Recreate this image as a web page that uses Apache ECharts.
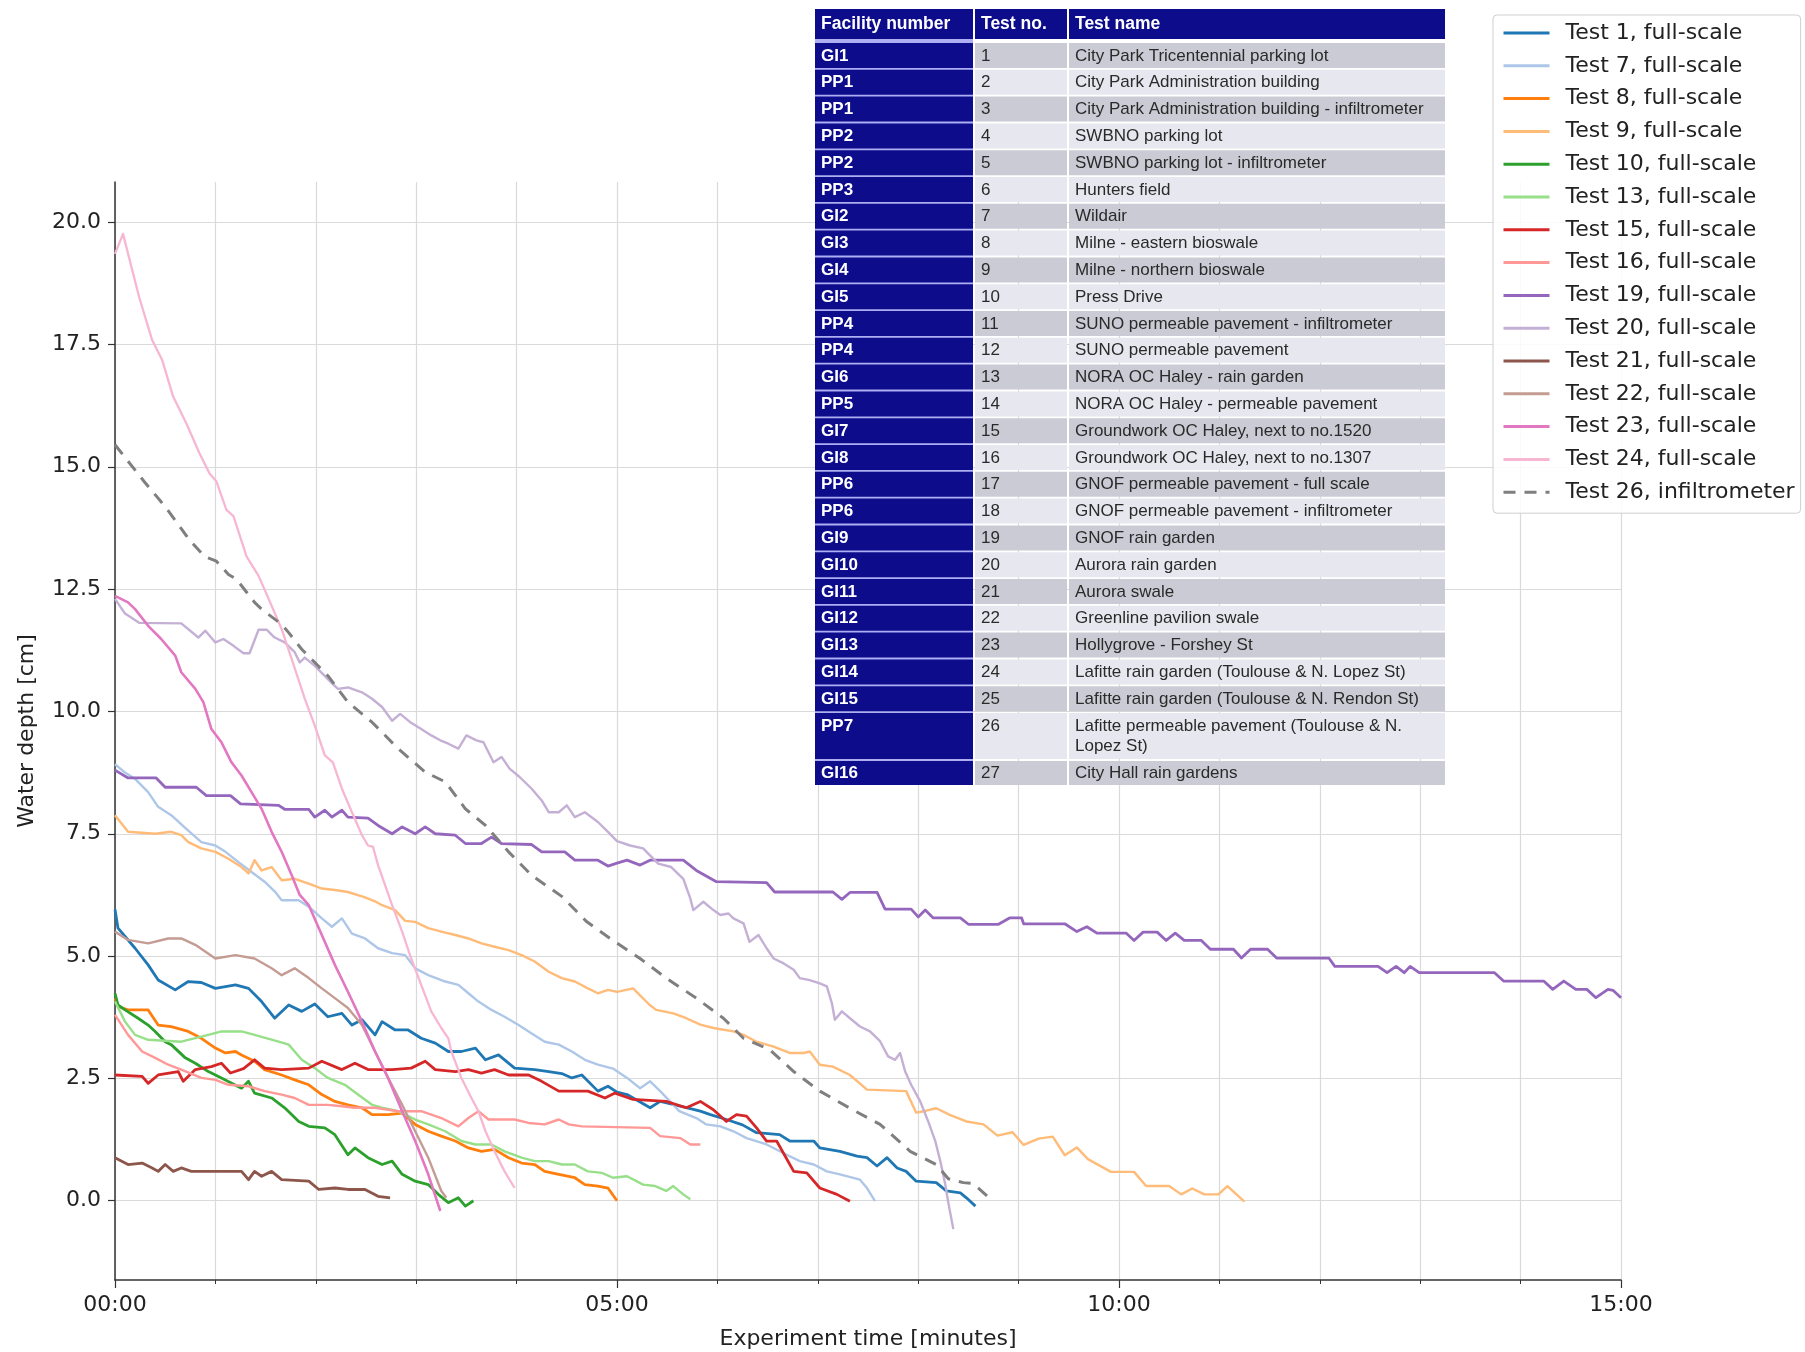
<!DOCTYPE html>
<html>
<head>
<meta charset="utf-8">
<script src="https://cdn.jsdelivr.net/npm/echarts@6.0.0/dist/echarts.min.js"></script>
<style>
html,body{margin:0;padding:0;background:#fff;}
#main{width:1805px;height:1352px;}
</style>
</head>
<body>
<div id="main"></div>
<script>
// ---------------- DATA ----------------
const seriesNames = ['Test 1, full-scale','Test 7, full-scale','Test 8, full-scale','Test 9, full-scale','Test 10, full-scale','Test 13, full-scale','Test 15, full-scale','Test 16, full-scale','Test 19, full-scale','Test 20, full-scale','Test 21, full-scale','Test 22, full-scale','Test 23, full-scale','Test 24, full-scale','Test 26, infiltrometer'];

// [time in minutes, water depth in cm]
const test1 = [[0,5.95],[0.03,5.57],[0.2,5.16],[0.33,4.82],[0.43,4.51],[0.6,4.31],[0.73,4.48],[0.86,4.46],[1.0,4.34],[1.2,4.41],[1.33,4.34],[1.46,4.07],[1.59,3.73],[1.73,4.0],[1.86,3.87],[1.99,4.02],[2.12,3.76],[2.26,3.83],[2.36,3.59],[2.46,3.7],[2.59,3.39],[2.66,3.66],[2.79,3.49],[2.92,3.49],[3.05,3.32],[3.19,3.22],[3.32,3.05],[3.45,3.05],[3.59,3.12],[3.69,2.88],[3.82,2.98],[3.98,2.71],[4.18,2.68],[4.32,2.64],[4.45,2.6],[4.55,2.51],[4.65,2.57],[4.81,2.24],[4.91,2.34],[5.0,2.22],[5.1,2.17],[5.33,1.9],[5.43,2.03],[5.6,1.95],[5.83,1.83],[5.93,1.76],[6.09,1.66],[6.25,1.55],[6.39,1.39],[6.62,1.35],[6.72,1.22],[6.96,1.22],[7.02,1.08],[7.22,1.01],[7.39,0.91],[7.49,0.88],[7.59,0.71],[7.69,0.88],[7.79,0.67],[7.88,0.6],[7.98,0.4],[8.18,0.37],[8.28,0.2],[8.42,0.16],[8.48,0.06],[8.57,-0.11]];
const test7 = [[0,8.92],[0.1,8.75],[0.2,8.62],[0.33,8.35],[0.43,8.05],[0.56,7.88],[0.71,7.6],[0.86,7.33],[1.0,7.26],[1.1,7.13],[1.23,6.92],[1.36,6.72],[1.49,6.52],[1.6,6.3],[1.66,6.14],[1.83,6.14],[1.93,6.01],[2.06,5.77],[2.16,5.6],[2.26,5.77],[2.36,5.46],[2.49,5.36],[2.62,5.16],[2.76,5.06],[2.89,5.02],[2.99,4.75],[3.12,4.61],[3.29,4.48],[3.42,4.41],[3.52,4.24],[3.62,4.07],[3.75,3.9],[3.88,3.76],[4.02,3.59],[4.15,3.42],[4.28,3.25],[4.42,3.19],[4.55,3.05],[4.68,2.88],[4.81,2.78],[4.96,2.7],[5.1,2.51],[5.23,2.3],[5.33,2.44],[5.43,2.24],[5.62,1.83],[5.79,1.69],[5.89,1.56],[6.03,1.52],[6.16,1.42],[6.29,1.28],[6.49,1.15],[6.69,0.94],[6.82,0.81],[6.96,0.74],[7.09,0.6],[7.22,0.54],[7.42,0.43],[7.49,0.26],[7.57,-0.01]];
const test8 = [[0,4.14],[0.03,3.97],[0.13,3.9],[0.33,3.9],[0.43,3.59],[0.56,3.56],[0.73,3.46],[0.86,3.32],[1.0,3.12],[1.1,3.02],[1.2,3.05],[1.26,2.98],[1.39,2.85],[1.49,2.68],[1.66,2.57],[1.79,2.47],[1.93,2.37],[2.06,2.17],[2.19,2.03],[2.32,1.96],[2.46,1.9],[2.56,1.76],[2.72,1.76],[2.86,1.79],[2.99,1.56],[3.12,1.42],[3.25,1.32],[3.39,1.22],[3.52,1.08],[3.65,1.01],[3.78,1.05],[3.92,0.88],[4.05,0.77],[4.18,0.74],[4.28,0.6],[4.42,0.54],[4.58,0.47],[4.68,0.33],[4.81,0.3],[4.91,0.26],[5.0,0.0]];
const test9 = [[0,7.88],[0.13,7.54],[0.4,7.5],[0.56,7.54],[0.66,7.47],[0.73,7.33],[0.86,7.2],[1.0,7.13],[1.13,6.99],[1.26,6.82],[1.33,6.69],[1.39,6.96],[1.46,6.75],[1.56,6.82],[1.66,6.55],[1.79,6.58],[1.93,6.48],[2.06,6.38],[2.19,6.35],[2.32,6.31],[2.49,6.2],[2.59,6.12],[2.66,6.04],[2.79,5.94],[2.89,5.72],[2.99,5.7],[3.12,5.57],[3.25,5.5],[3.39,5.43],[3.52,5.36],[3.65,5.26],[3.78,5.19],[3.92,5.12],[4.05,5.02],[4.18,4.89],[4.32,4.68],[4.45,4.55],[4.58,4.48],[4.71,4.34],[4.81,4.24],[4.91,4.31],[5.0,4.27],[5.16,4.34],[5.32,4.01],[5.39,3.9],[5.56,3.83],[5.69,3.73],[5.83,3.6],[5.96,3.53],[6.16,3.46],[6.26,3.39],[6.39,3.25],[6.56,3.15],[6.72,3.02],[6.86,3.02],[6.92,3.05],[7.02,2.78],[7.15,2.74],[7.32,2.57],[7.49,2.27],[7.88,2.24],[7.98,1.8],[8.08,1.84],[8.18,1.89],[8.32,1.75],[8.48,1.62],[8.65,1.56],[8.79,1.33],[8.94,1.4],[9.05,1.14],[9.2,1.27],[9.34,1.31],[9.46,0.93],[9.58,1.09],[9.69,0.85],[9.92,0.59],[10.15,0.59],[10.27,0.3],[10.5,0.3],[10.62,0.13],[10.73,0.25],[10.85,0.13],[10.99,0.13],[11.08,0.3],[11.17,0.13],[11.25,-0.02]];
const test10 = [[0,4.24],[0.03,4.0],[0.1,3.9],[0.23,3.73],[0.33,3.59],[0.4,3.46],[0.5,3.25],[0.56,3.19],[0.7,2.92],[0.8,2.81],[0.93,2.64],[1.06,2.51],[1.26,2.3],[1.33,2.44],[1.39,2.2],[1.56,2.1],[1.69,1.9],[1.83,1.62],[1.93,1.52],[2.09,1.49],[2.19,1.35],[2.32,0.94],[2.39,1.08],[2.52,0.88],[2.66,0.74],[2.76,0.81],[2.86,0.54],[2.99,0.4],[3.12,0.33],[3.22,0.13],[3.32,-0.04],[3.42,0.06],[3.49,-0.11],[3.57,0.0]];
const test13 = [[0,4.07],[0.1,3.66],[0.2,3.39],[0.33,3.29],[0.66,3.25],[0.93,3.39],[1.06,3.46],[1.26,3.46],[1.39,3.39],[1.63,3.25],[1.73,3.19],[1.86,2.88],[1.99,2.71],[2.12,2.51],[2.29,2.37],[2.42,2.17],[2.56,1.96],[2.66,1.9],[2.82,1.83],[2.99,1.66],[3.12,1.56],[3.29,1.42],[3.45,1.22],[3.59,1.15],[3.75,1.15],[3.88,1.01],[4.05,0.88],[4.18,0.81],[4.32,0.81],[4.45,0.74],[4.58,0.74],[4.71,0.6],[4.85,0.57],[4.96,0.47],[5.1,0.5],[5.26,0.33],[5.38,0.3],[5.49,0.2],[5.56,0.3],[5.66,0.13],[5.73,0.03]];
const test15 = [[0,2.57],[0.27,2.54],[0.33,2.4],[0.43,2.57],[0.63,2.64],[0.68,2.44],[0.8,2.68],[0.96,2.74],[1.06,2.81],[1.15,2.61],[1.28,2.7],[1.39,2.88],[1.49,2.71],[1.66,2.68],[1.93,2.71],[2.06,2.85],[2.26,2.68],[2.39,2.81],[2.52,2.68],[2.76,2.68],[2.95,2.71],[3.09,2.85],[3.19,2.68],[3.39,2.64],[3.52,2.68],[3.65,2.61],[3.78,2.68],[3.92,2.57],[4.12,2.57],[4.25,2.44],[4.42,2.24],[4.71,2.24],[4.88,2.1],[4.98,2.2],[5.16,2.07],[5.49,2.03],[5.69,1.9],[5.83,2.03],[5.96,1.86],[6.09,1.62],[6.19,1.76],[6.29,1.73],[6.39,1.49],[6.49,1.22],[6.59,1.22],[6.76,0.6],[6.89,0.57],[7.02,0.26],[7.19,0.13],[7.32,-0.01]];
const test16 = [[0,3.8],[0.13,3.39],[0.27,3.05],[0.4,2.92],[0.53,2.78],[0.66,2.68],[0.86,2.51],[1.0,2.47],[1.13,2.37],[1.33,2.34],[1.49,2.24],[1.66,2.17],[1.79,2.1],[1.93,1.96],[2.12,1.96],[2.26,1.93],[2.39,1.9],[2.59,1.9],[2.82,1.83],[3.05,1.83],[3.25,1.69],[3.42,1.52],[3.52,1.69],[3.62,1.83],[3.72,1.66],[3.98,1.66],[4.12,1.59],[4.28,1.56],[4.42,1.66],[4.52,1.56],[4.65,1.52],[5.33,1.49],[5.43,1.32],[5.63,1.28],[5.73,1.15],[5.83,1.15]];
const test19 = [[0,8.8],[0.13,8.64],[0.41,8.64],[0.5,8.45],[0.81,8.45],[0.91,8.28],[1.15,8.28],[1.25,8.11],[1.63,8.08],[1.69,8.0],[1.93,8.0],[1.99,7.84],[2.09,7.98],[2.16,7.84],[2.26,7.98],[2.32,7.84],[2.52,7.82],[2.62,7.67],[2.76,7.5],[2.86,7.64],[2.99,7.5],[3.09,7.64],[3.19,7.5],[3.39,7.47],[3.49,7.3],[3.65,7.3],[3.75,7.43],[3.85,7.3],[4.15,7.28],[4.25,7.13],[4.48,7.13],[4.58,6.96],[4.81,6.96],[4.91,6.84],[5.0,6.9],[5.1,6.96],[5.23,6.86],[5.33,6.96],[5.66,6.96],[5.79,6.75],[5.99,6.52],[6.49,6.5],[6.57,6.31],[7.15,6.31],[7.24,6.16],[7.32,6.3],[7.59,6.3],[7.67,5.96],[7.93,5.96],[8.0,5.8],[8.07,5.94],[8.15,5.78],[8.42,5.78],[8.5,5.65],[8.8,5.65],[8.91,5.78],[9.03,5.78],[9.05,5.66],[9.46,5.66],[9.58,5.5],[9.68,5.6],[9.78,5.47],[10.07,5.47],[10.15,5.32],[10.24,5.49],[10.38,5.49],[10.47,5.32],[10.56,5.47],[10.65,5.32],[10.82,5.32],[10.91,5.14],[11.14,5.14],[11.22,4.96],[11.31,5.14],[11.48,5.14],[11.57,4.96],[12.09,4.96],[12.15,4.79],[12.58,4.79],[12.67,4.66],[12.76,4.79],[12.84,4.66],[12.9,4.79],[12.99,4.66],[13.74,4.66],[13.83,4.49],[14.23,4.49],[14.32,4.32],[14.43,4.49],[14.55,4.32],[14.66,4.32],[14.75,4.15],[14.87,4.32],[14.92,4.3],[15.0,4.15]];
const test20 = [[0,12.3],[0.1,12.0],[0.24,11.81],[0.66,11.8],[0.83,11.51],[0.9,11.65],[1.0,11.41],[1.08,11.48],[1.18,11.34],[1.28,11.19],[1.34,11.19],[1.43,11.67],[1.51,11.67],[1.59,11.51],[1.69,11.41],[1.79,11.21],[1.84,11.0],[1.89,11.1],[1.99,10.93],[2.12,10.66],[2.22,10.46],[2.32,10.49],[2.46,10.39],[2.56,10.26],[2.66,10.09],[2.76,9.81],[2.84,9.95],[2.94,9.78],[3.05,9.64],[3.15,9.51],[3.24,9.41],[3.32,9.34],[3.42,9.24],[3.5,9.51],[3.6,9.41],[3.67,9.37],[3.77,8.96],[3.85,9.07],[3.93,8.83],[4.03,8.66],[4.15,8.42],[4.25,8.18],[4.32,7.94],[4.42,7.94],[4.5,8.08],[4.58,7.84],[4.68,7.94],[4.81,7.74],[4.91,7.54],[5.0,7.35],[5.13,7.26],[5.26,7.2],[5.41,6.89],[5.54,6.82],[5.66,6.58],[5.73,6.18],[5.76,5.94],[5.86,6.11],[5.96,5.94],[6.03,5.84],[6.11,5.87],[6.16,5.77],[6.26,5.67],[6.32,5.29],[6.41,5.43],[6.49,5.16],[6.56,4.95],[6.66,4.85],[6.76,4.72],[6.82,4.55],[6.92,4.51],[7.02,4.44],[7.09,4.38],[7.14,4.04],[7.17,3.7],[7.24,3.87],[7.32,3.73],[7.42,3.56],[7.52,3.46],[7.62,3.26],[7.7,2.95],[7.77,2.88],[7.82,3.02],[7.87,2.64],[7.93,2.37],[8.02,2.03],[8.1,1.62],[8.17,1.22],[8.22,0.81],[8.27,0.33],[8.3,-0.04],[8.35,-0.58]];
const test21 = [[0,0.88],[0.13,0.74],[0.27,0.77],[0.37,0.67],[0.43,0.6],[0.5,0.74],[0.58,0.6],[0.66,0.67],[0.76,0.6],[1.26,0.6],[1.33,0.43],[1.39,0.6],[1.46,0.5],[1.56,0.6],[1.66,0.43],[1.93,0.4],[2.03,0.23],[2.19,0.26],[2.32,0.23],[2.49,0.23],[2.62,0.09],[2.74,0.06]];
const test22 = [[0,5.5],[0.13,5.33],[0.33,5.26],[0.53,5.36],[0.66,5.36],[0.8,5.23],[1.0,4.95],[1.2,5.02],[1.39,4.95],[1.56,4.75],[1.66,4.61],[1.79,4.75],[1.93,4.55],[2.06,4.34],[2.19,4.14],[2.32,3.94],[2.46,3.59],[2.59,3.05],[2.72,2.51],[2.86,1.96],[2.99,1.42],[3.12,0.88],[3.25,0.2],[3.3,0.06]];
const test23 = [[0,12.36],[0.13,12.23],[0.2,12.09],[0.33,11.75],[0.46,11.48],[0.6,11.14],[0.66,10.8],[0.8,10.46],[0.88,10.19],[0.96,9.64],[1.06,9.37],[1.16,8.96],[1.26,8.69],[1.36,8.35],[1.46,8.01],[1.56,7.54],[1.66,7.13],[1.76,6.65],[1.84,6.25],[1.93,6.04],[2.06,5.43],[2.19,4.82],[2.32,4.27],[2.46,3.66],[2.59,3.05],[2.72,2.51],[2.86,1.83],[2.99,1.22],[3.12,0.54],[3.24,-0.21]];
const test24 = [[0,19.35],[0.08,19.76],[0.24,18.47],[0.37,17.59],[0.47,17.18],[0.58,16.43],[0.71,15.89],[0.84,15.28],[0.94,14.87],[1.01,14.7],[1.11,14.12],[1.18,13.99],[1.31,13.17],[1.43,12.77],[1.56,12.16],[1.66,11.68],[1.76,11.07],[1.89,10.26],[1.99,9.71],[2.09,9.1],[2.17,8.96],[2.26,8.42],[2.36,7.94],[2.46,7.47],[2.52,7.26],[2.57,7.23],[2.62,6.86],[2.69,6.45],[2.76,6.04],[2.86,5.5],[2.95,4.95],[3.05,4.41],[3.15,3.87],[3.25,3.53],[3.32,3.32],[3.35,3.05],[3.45,2.51],[3.55,2.1],[3.62,1.83],[3.69,1.42],[3.78,1.01],[3.88,0.6],[3.98,0.26]];
const test26 = [[0,15.45],[0.29,14.7],[0.51,14.16],[0.74,13.51],[0.89,13.17],[1.01,13.07],[1.13,12.8],[1.21,12.7],[1.39,12.23],[1.46,12.09],[1.66,11.78],[1.73,11.61],[1.86,11.27],[2.12,10.73],[2.32,10.19],[2.56,9.78],[2.82,9.24],[3.09,8.76],[3.29,8.56],[3.49,8.01],[3.69,7.67],[3.92,7.13],[4.15,6.65],[4.45,6.22],[4.7,5.7],[4.93,5.36],[5.23,4.95],[5.49,4.55],[5.79,4.14],[6.06,3.73],[6.26,3.32],[6.52,3.09],[6.76,2.64],[7.02,2.24],[7.32,1.89],[7.62,1.56],[7.92,1.01],[8.18,0.74],[8.3,0.45],[8.45,0.37],[8.55,0.35],[8.74,0.0]];

const seriesData = [test1,test7,test8,test9,test10,test13,test15,test16,test19,test20,test21,test22,test23,test24,test26];

const yTickValues = [0,2.5,5,7.5,10,12.5,15,17.5,20];

// Table content
const tableHeader = ['Facility number','Test no.','Test name'];
const facilityNumbers = ['GI1','PP1','PP1','PP2','PP2','PP3','GI2','GI3','GI4','GI5','PP4','PP4','GI6','PP5','GI7','GI8','PP6','PP6','GI9','GI10','GI11','GI12','GI13','GI14','GI15','PP7','GI16'];
const testNumbers = ['1','2','3','4','5','6','7','8','9','10','11','12','13','14','15','16','17','18','19','20','21','22','23','24','25','26','27'];
const testNames = ['City Park Tricentennial parking lot','City Park Administration building','City Park Administration building - infiltrometer','SWBNO parking lot','SWBNO parking lot - infiltrometer','Hunters field','Wildair','Milne - eastern bioswale','Milne - northern bioswale','Press Drive','SUNO permeable pavement - infiltrometer','SUNO permeable pavement','NORA OC Haley - rain garden','NORA OC Haley - permeable pavement','Groundwork OC Haley, next to no.1520','Groundwork OC Haley, next to no.1307','GNOF permeable pavement - full scale','GNOF permeable pavement - infiltrometer','GNOF rain garden','Aurora rain garden','Aurora swale','Greenline pavilion swale','Hollygrove - Forshey St','Lafitte rain garden (Toulouse & N. Lopez St)','Lafitte rain garden (Toulouse & N. Rendon St)','Lafitte permeable pavement (Toulouse & N.\nLopez St)','City Hall rain gardens'];

// ---------------- STYLE ----------------
const colors = ['#1f77b4','#aec7e8','#ff7f0e','#ffbb78','#2ca02c','#98df8a','#d62728','#ff9896','#9467bd','#c5b0d5','#8c564b','#c49c94','#e377c2','#f7b6d2','#7f7f7f'];
const widths = [2.8,2.4,2.8,2.4,2.8,2.4,2.8,2.4,2.8,2.4,2.8,2.4,2.6,2.3,3];
const FONT = 'DejaVu Sans';
const TFONT = '"Liberation Sans", Arial, sans-serif';

// ---------------- TABLE GRAPHIC ----------------
const tbl = [];
const colX = [815, 975, 1069];
const colW = [158, 92, 376];
const navy = '#0d0d8c';
const grayCell = '#cbcbd5', lightCell = '#e7e7ef';
tbl.push({type:'rect', shape:{x:colX[0], y:9, width:colW[0], height:776}, style:{fill:'#aeaef2'}, z:100});
for (let c = 0; c < 3; c++) {
  tbl.push({type:'rect', shape:{x:colX[c], y:9, width:colW[c], height:30}, style:{fill:navy}, z:101});
  tbl.push({type:'text', x:colX[c]+6, y:24, style:{text:tableHeader[c], fill:'#ffffff', fontFamily:TFONT, fontWeight:'bold', fontSize:17.5, verticalAlign:'middle'}, z:102});
}
const rowY = [], rowH = [];
for (let i = 0; i < facilityNumbers.length; i++) {
  if (i <= 25) rowY.push(43 + i*26.8); else rowY.push(rowY[25] + 48);
  rowH.push(i === 25 ? 46 : (i === 26 ? 24 : 25));
}
for (let i = 0; i < facilityNumbers.length; i++) {
  const y = rowY[i], h = rowH[i];
  const fill = (i % 2 === 0) ? grayCell : lightCell;
  tbl.push({type:'rect', shape:{x:colX[0], y:y, width:colW[0], height:h}, style:{fill:navy}, z:101});
  tbl.push({type:'rect', shape:{x:colX[1], y:y, width:colW[1], height:h}, style:{fill:fill}, z:101});
  tbl.push({type:'rect', shape:{x:colX[2], y:y, width:colW[2], height:h}, style:{fill:fill}, z:101});
  const multi = h > 30;
  const ty = multi ? y + 3 : y + h/2 + 0.5;
  const va = multi ? 'top' : 'middle';
  tbl.push({type:'text', x:colX[0]+6, y:ty, style:{text:facilityNumbers[i], fill:'#ffffff', fontFamily:TFONT, fontWeight:'bold', fontSize:17, verticalAlign:va, lineHeight:20}, z:102});
  tbl.push({type:'text', x:colX[1]+6, y:ty, style:{text:testNumbers[i], fill:'#2a2a2a', fontFamily:TFONT, fontSize:17, verticalAlign:va, lineHeight:20}, z:102});
  tbl.push({type:'text', x:colX[2]+6, y:ty, style:{text:testNames[i], fill:'#2a2a2a', fontFamily:TFONT, fontSize:17, verticalAlign:va, lineHeight:20}, z:102});
}

// ---------------- CHART ----------------
const chart = echarts.init(document.getElementById('main'), null, {renderer:'canvas'});
const series = seriesData.map((d, i) => ({
  name: seriesNames[i],
  type: 'line',
  data: d,
  showSymbol: false,
  symbol: 'none',
  animation: false,
  lineStyle: {color: colors[i], width: widths[i], type: i === 14 ? [12, 9] : 'solid', join:'round', cap:'butt'},
  itemStyle: {color: colors[i]},
  emphasis: {disabled: true}
}));

chart.setOption({
  animation: false,
  backgroundColor: '#ffffff',
  grid: {left: 115, right: 184, top: 182, bottom: 72, containLabel: false, outerBoundsMode: 'none'},
  legend: {
    show: true,
    orient: 'vertical',
    left: 1493, top: 15,
    itemWidth: 46, itemHeight: 14, itemGap: 10.8,
    padding: [7, 6, 10, 9],
    borderColor: '#cfcfcf', borderWidth: 1, borderRadius: 4,
    backgroundColor: 'rgba(255,255,255,0.85)',
    selectedMode: false,
    itemStyle: {opacity: 0},
    lineStyle: {width: 3},
    textStyle: {fontFamily: FONT, fontSize: 22, color: '#222', lineHeight: 22, padding: [0,0,0,11]},
    data: seriesNames
  },
  xAxis: {
    type: 'value', min: 0, max: 15, interval: 5,
    name: 'Experiment time [minutes]', nameLocation: 'middle', nameGap: 48,
    nameTextStyle: {fontFamily: FONT, fontSize: 22, color: '#222'},
    axisLine: {show: true, onZero: false, lineStyle: {color: '#333', width: 1.5}},
    axisTick: {show: true, length: 8, lineStyle: {color: '#333', width: 1.2}},
    minorTick: {show: true, splitNumber: 5, length: 4, lineStyle: {color: '#333', width: 1}},
    axisLabel: {fontFamily: FONT, fontSize: 22, color: '#222', margin: 14,
      formatter: v => (v < 10 ? '0' : '') + v + ':00'},
    splitLine: {show: true, lineStyle: {color: '#dadada', width: 1.2}},
    minorSplitLine: {show: true, lineStyle: {color: '#dadada', width: 1.2}}
  },
  yAxis: {
    type: 'value', min: -1.62, max: 20.82,
    name: 'Water depth [cm]', nameLocation: 'middle', nameGap: 77, nameRotate: 90,
    nameTextStyle: {fontFamily: FONT, fontSize: 22, color: '#222'},
    axisLine: {show: true, onZero: false, lineStyle: {color: '#333', width: 1.5}},
    axisTick: {show: true, length: 7, customValues: yTickValues, lineStyle: {color: '#333', width: 1.2}},
    axisLabel: {fontFamily: FONT, fontSize: 22, color: '#222', margin: 14, customValues: yTickValues,
      formatter: v => Number(v).toFixed(1)},
    splitLine: {show: true, lineStyle: {color: '#dadada', width: 1.2}}
  },
  series: series,
  graphic: {elements: tbl}
});
</script>
</body>
</html>
